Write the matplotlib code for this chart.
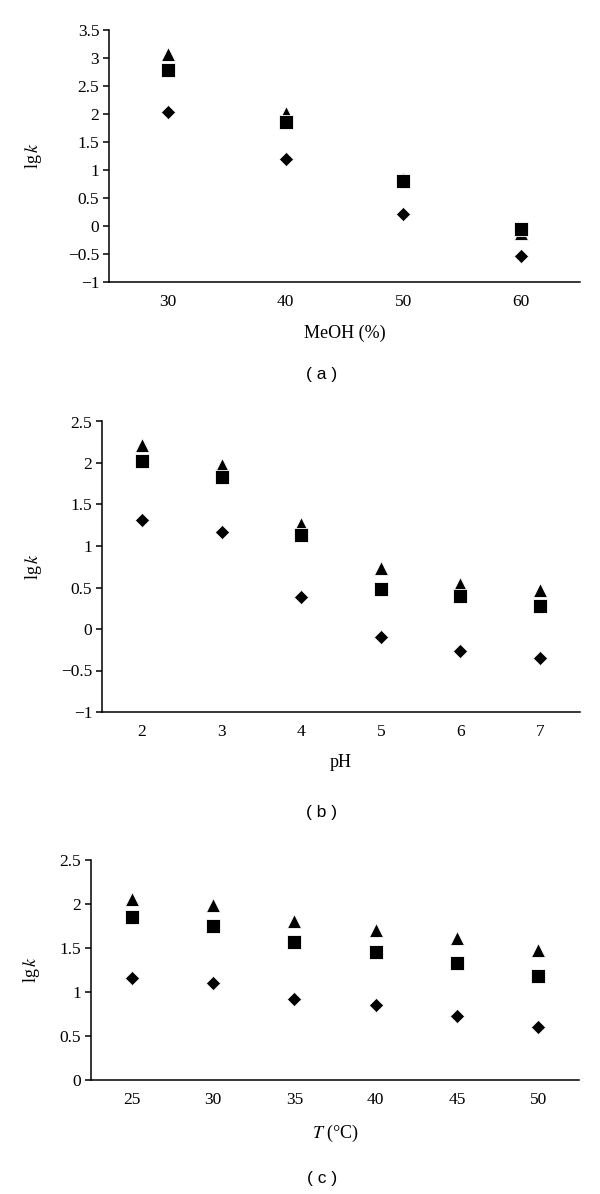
import matplotlib
matplotlib.use("Agg")
import matplotlib.pyplot as plt

plt.rcParams["font.family"] = "Liberation Serif"
plt.rcParams["mathtext.fontset"] = "stix"
plt.rcParams["axes.unicode_minus"] = True

# (a) methanol content
meoh = [30, 40, 50, 60]
meoh_diamond = [2.03, 1.20, 0.22, -0.53]
meoh_square = [2.78, 1.86, 0.81, -0.05]
meoh_triangle = [3.07, 2.01, 0.84, -0.13]

# (b) pH
ph = [2, 3, 4, 5, 6, 7]
ph_diamond = [1.31, 1.17, 0.39, -0.10, -0.26, -0.35]
ph_square = [2.03, 1.83, 1.13, 0.48, 0.40, 0.28]
ph_triangle = [2.22, 1.97, 1.27, 0.73, 0.54, 0.47]

# (c) temperature
temp = [25, 30, 35, 40, 45, 50]
temp_diamond = [1.16, 1.10, 0.92, 0.85, 0.73, 0.60]
temp_square = [1.85, 1.75, 1.57, 1.45, 1.33, 1.18]
temp_triangle = [2.06, 1.99, 1.81, 1.71, 1.61, 1.48]

fig = plt.figure(figsize=(6, 11.94), dpi=100)

W, H = 600.0, 1194.0


def make_axes(left, right, top, bottom):
    return fig.add_axes([left / W, 1 - bottom / H, (right - left) / W, (bottom - top) / H])


def style(ax, x, step, ylim, yticks, xlabel, ylab_x, left_px, width_px):
    ax.set_xlim(x[0] - step / 2, x[-1] + step / 2)
    ax.set_ylim(*ylim)
    ax.set_xticks(x)
    ax.set_xticklabels([str(v) for v in x])
    ax.set_yticks(yticks)
    ax.set_yticklabels([("%g" % v).replace("-", "\u2212") for v in yticks])
    for s in ["top", "right"]:
        ax.spines[s].set_visible(False)
    for s in ["left", "bottom"]:
        ax.spines[s].set_linewidth(1.1)
    ax.tick_params(axis="x", length=0, pad=9, labelsize=12.5)
    ax.tick_params(axis="y", length=4, width=1.1, direction="out", pad=3, labelsize=12.5)
    ax.set_xlabel(xlabel, fontsize=13, labelpad=10)
    ax.set_ylabel("lg$\\,k$", fontsize=13)
    ax.yaxis.set_label_coords((ylab_x - left_px) / width_px, 0.5)


def draw(ax, x, d, s, t):
    ax.plot(x, t, linestyle="none", marker="^", ms=10, color="black", mec="white", mew=0.6, zorder=3)
    ax.plot(x, s, linestyle="none", marker="s", ms=9.5, color="black", mec="white", mew=0.6, zorder=4)
    ax.plot(x, d, linestyle="none", marker="D", ms=6.8, color="black", mec="white", mew=0.4, zorder=5)


ax1 = make_axes(109, 580, 30, 282)
draw(ax1, meoh, meoh_diamond, meoh_square, meoh_triangle)
style(ax1, meoh, 10, (-1, 3.5), [-1, -0.5, 0, 0.5, 1, 1.5, 2, 2.5, 3, 3.5],
      "MeOH (%)", 44, 109, 471)

ax2 = make_axes(102, 580, 421.5, 712)
draw(ax2, ph, ph_diamond, ph_square, ph_triangle)
style(ax2, ph, 1, (-1, 2.5), [-1, -0.5, 0, 0.5, 1, 1.5, 2, 2.5],
      "pH", 44, 102, 478)

ax3 = make_axes(91, 579, 860, 1080)
draw(ax3, temp, temp_diamond, temp_square, temp_triangle)
style(ax3, temp, 5, (0, 2.5), [0, 0.5, 1, 1.5, 2, 2.5],
      "$T$ (\u00b0C)", 42, 91, 488)

for label, ypx in [("( a )", 375), ("( b )", 812), ("( c )", 1178)]:
    fig.text(322 / W, 1 - ypx / H, label, ha="center", va="center",
             fontsize=12.5, family="Liberation Sans")

fig.savefig("out.png", dpi=100)
